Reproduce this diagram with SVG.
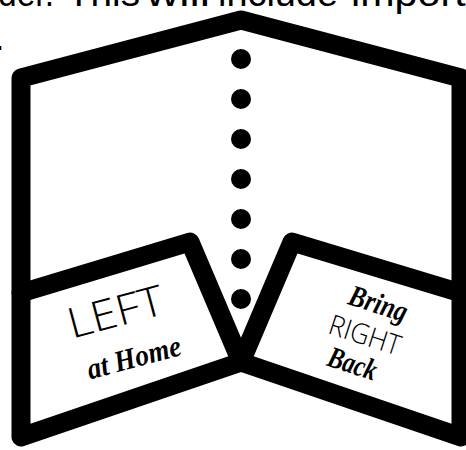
<svg xmlns="http://www.w3.org/2000/svg" width="466" height="450" viewBox="0 0 466 450">
<style>
.ln{fill:none;stroke:#000;stroke-width:19;stroke-linejoin:round;stroke-linecap:round}
.dot{fill:#000}
.top{font-family:"Liberation Sans","Open Sans",sans-serif;font-size:36px;fill:#000}
.thin{font-family:"Open Sans","Lato",sans-serif;font-weight:300;fill:#000}
.script{font-family:"Liberation Serif","DejaVu Serif",serif;font-style:italic;font-weight:bold;fill:#000}
</style>
<rect width="466" height="450" fill="#fff"/>
<g id="caption">
<text class="top" y="6"><tspan x="-2" textLength="56" lengthAdjust="spacingAndGlyphs">der.</tspan><tspan x="67" textLength="73" lengthAdjust="spacingAndGlyphs">This</tspan><tspan x="146" textLength="64" lengthAdjust="spacingAndGlyphs">will</tspan><tspan x="218" textLength="120" lengthAdjust="spacingAndGlyphs">include</tspan><tspan x="351" textLength="172" lengthAdjust="spacingAndGlyphs">important</tspan></text>
<text class="top" x="-5.5" y="50">.</text>
</g>
<g id="folder">
<path class="ln" d="M21,78 L241,20 L461,78 L461,437 L241,362 L21,437 Z"/>
</g>
<g id="fold-dots">
<circle class="dot" cx="241" cy="59" r="10"/>
<circle class="dot" cx="241" cy="99" r="10"/>
<circle class="dot" cx="241" cy="139" r="10"/>
<circle class="dot" cx="241" cy="179" r="10"/>
<circle class="dot" cx="241" cy="219" r="10"/>
<circle class="dot" cx="241" cy="259" r="10"/>
<circle class="dot" cx="241" cy="299" r="10"/>
</g>
<g id="left-pocket">
<path class="ln" d="M21,293 L190,242 L241,362"/>
<g transform="translate(125,336) rotate(-15)">
<text class="thin" x="-3" y="-11" font-size="42" text-anchor="middle" textLength="98" lengthAdjust="spacingAndGlyphs">LEFT</text>
<text class="script" x="3" y="33" font-size="30" text-anchor="middle" textLength="96" lengthAdjust="spacingAndGlyphs">at Home</text>
</g>
</g>
<g id="right-pocket">
<path class="ln" d="M461,293 L292,242 L241,362"/>
<g transform="translate(366,332) rotate(18)">
<text class="script" x="3" y="-21" font-size="30" text-anchor="middle" textLength="60" lengthAdjust="spacingAndGlyphs">Bring</text>
<text class="thin" x="0" y="13" font-size="28" text-anchor="middle" textLength="74" lengthAdjust="spacingAndGlyphs">RIGHT</text>
<text class="script" x="-3" y="44" font-size="30" text-anchor="middle" textLength="50" lengthAdjust="spacingAndGlyphs">Back</text>
</g>
</g>
</svg>
